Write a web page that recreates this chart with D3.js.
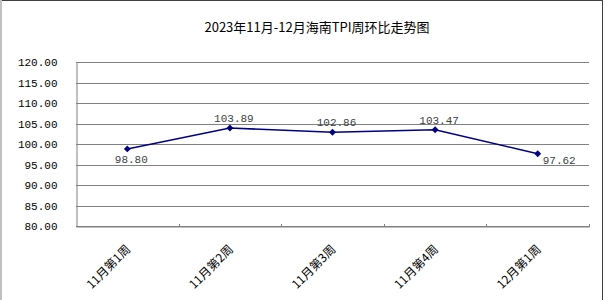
<!DOCTYPE html>
<html><head><meta charset="utf-8">
<script src="https://cdn.jsdelivr.net/npm/d3@7/dist/d3.min.js"></script>
<style>body{margin:0;background:#fff}svg{display:block}</style>
</head><body>
<script>
const title = "2023年11月-12月海南TPI周环比走势图";
const categories = ["11月第1周","11月第2周","11月第3周","11月第4周","12月第1周"];
const values = [98.80, 103.89, 102.86, 103.47, 97.62];
const yTicks = [80,85,90,95,100,105,110,115,120];
const labelPos = ["below","above","above","above","right"];

const W = 606, H = 300;
const m = {left:76, right:589, top:62, bottom:226};
const svg = d3.select("body").append("svg").attr("width",W).attr("height",H);

// outer frame
svg.append("rect").attr("x",0).attr("y",0).attr("width",W).attr("height",H).attr("fill","#fff");
svg.append("line").attr("x1",0).attr("x2",603).attr("y1",0.5).attr("y2",0.5).attr("stroke","#404040");
svg.append("line").attr("x1",1).attr("x2",1).attr("y1",0).attr("y2",H).attr("stroke","#c0c0c0").attr("stroke-width",2);
svg.append("line").attr("x1",602.5).attr("x2",602.5).attr("y1",0).attr("y2",H).attr("stroke","#404040");

svg.append("text").attr("x",317).attr("y",32).attr("text-anchor","middle")
  .attr("font-family","'Noto Sans CJK SC'").attr("font-size",13).attr("fill","#000").text(title);

const x = d3.scaleBand().domain(categories).range([m.left,m.right]);
const y = d3.scaleLinear().domain([80,120]).range([m.bottom,m.top]);

// gridlines
svg.append("g").selectAll("line").data(yTicks).join("line")
  .attr("x1",m.left).attr("x2",m.right)
  .attr("y1",d=>Math.round(y(d))+0.5).attr("y2",d=>Math.round(y(d))+0.5)
  .attr("stroke","#808080");

// y axis
const yAxis = svg.append("g").attr("transform",`translate(${m.left+0.5},0)`)
  .call(d3.axisLeft(y).tickValues(yTicks).tickFormat(d3.format(".2f")).tickSize(0).tickPadding(19));
yAxis.select(".domain").attr("stroke","#808080");
yAxis.selectAll("text").attr("font-family","'Liberation Mono'").attr("font-size",11).attr("fill","#000");

// x axis
const xAxis = svg.append("g").attr("transform",`translate(0,${Math.round(y(80))+0.5})`)
  .call(d3.axisBottom(x).tickSize(0).tickFormat(""));
xAxis.select(".domain").attr("stroke","#808080");
svg.append("g").selectAll("line").data(categories).join("line")
  .attr("x1",d=>Math.round(x(d)+x.bandwidth())+0.5).attr("x2",d=>Math.round(x(d)+x.bandwidth())+0.5)
  .attr("y1",m.bottom-2).attr("y2",m.bottom+1).attr("stroke","#808080");

svg.append("g").selectAll("text").data(categories).join("text")
  .attr("transform",d=>`translate(${x(d)+x.bandwidth()/2+4},${250}) rotate(-45)`)
  .attr("text-anchor","end").attr("font-family","'Noto Sans CJK SC'").attr("font-size",12)
  .attr("fill","#000").text(d=>d);

// line
const cx = (d,i)=>x(categories[i])+x.bandwidth()/2;
svg.append("path").datum(values)
  .attr("d",d3.line().x((d,i)=>cx(d,i)).y(d=>y(d)))
  .attr("fill","none").attr("stroke","#000080").attr("stroke-width",1.5);
svg.append("g").selectAll("path").data(values).join("path")
  .attr("transform",(d,i)=>`translate(${cx(d,i)},${y(d)})`)
  .attr("d",d3.symbol(d3.symbolDiamond2,30))
  .attr("fill","#000080");

// labels
svg.append("g").selectAll("text").data(values).join("text")
  .attr("x",(d,i)=>labelPos[i]==="right"? cx(d,i)+5 : cx(d,i)+4)
  .attr("y",(d,i)=>labelPos[i]==="above"? y(d)-6 : (labelPos[i]==="below"? y(d)+14 : y(d)+10))
  .attr("text-anchor",(d,i)=>labelPos[i]==="right"?"start":"middle")
  .attr("font-family","'Liberation Mono'").attr("font-size",11).attr("fill","#404040")
  .text(d=>d.toFixed(2));
</script>
</body></html>
